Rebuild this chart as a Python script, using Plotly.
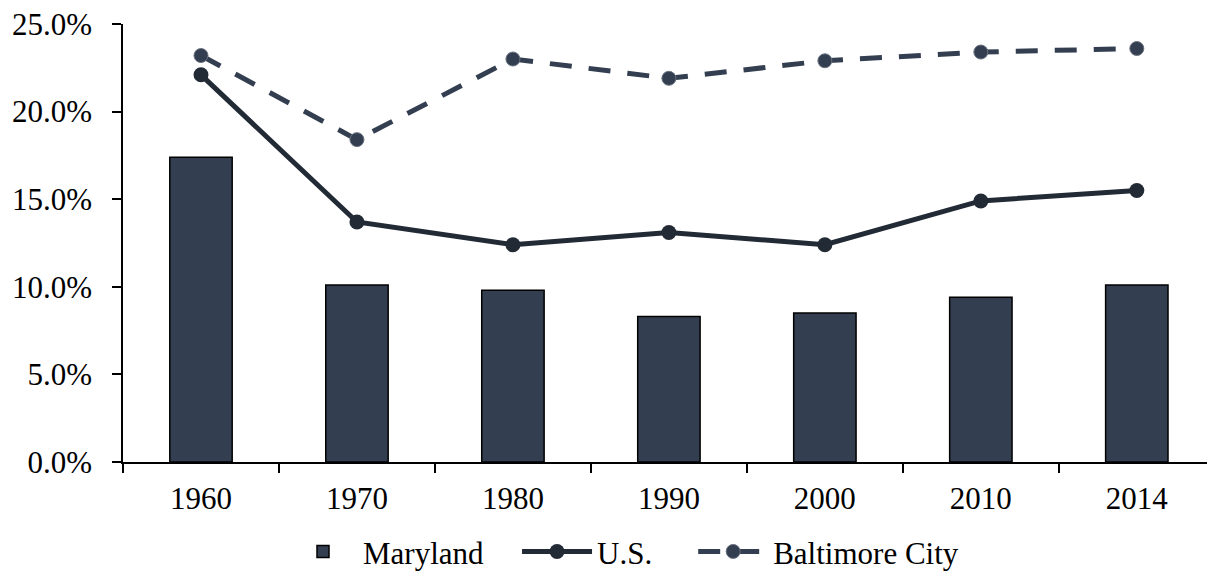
import plotly.graph_objects as go

years = ["1960", "1970", "1980", "1990", "2000", "2010", "2014"]
maryland = [17.4, 10.1, 9.8, 8.3, 8.5, 9.4, 10.1]
us = [22.1, 13.7, 12.4, 13.1, 12.4, 14.9, 15.5]
baltimore = [23.2, 18.4, 23.0, 21.9, 22.9, 23.4, 23.6]

y_ticks = [0, 5, 10, 15, 20, 25]

FONT = "Liberation Serif, Times New Roman, serif"
BAR = "#333f50"
DARK = "#222a35"
FS = 31

fig = go.Figure()
fig.add_trace(go.Bar(
    x=years, y=maryland, name="Maryland", width=0.4, legend="legend",
    marker=dict(color=BAR, line=dict(color="black", width=1.5)),
))
fig.add_trace(go.Scatter(
    x=years, y=us, name="U.S.", mode="lines+markers", legend="legend2",
    line=dict(color=DARK, width=5),
    marker=dict(symbol="circle", size=15, color=DARK),
))
fig.add_trace(go.Scatter(
    x=years, y=baltimore, name="Baltimore City", mode="lines+markers", legend="legend3",
    line=dict(color=BAR, width=5, dash="22px,17px"),
    marker=dict(symbol="circle", size=14, color=BAR, line=dict(color="#6b7280", width=1)),
))

leg_common = dict(orientation="h", xanchor="left", y=-0.205, yanchor="middle",
                  font=dict(family=FONT, size=FS, color="black"), itemwidth=70,
                  bgcolor="rgba(0,0,0,0)")

fig.update_layout(
    width=1210, height=573,
    margin=dict(l=123, r=3, t=24, b=111, autoexpand=False),
    paper_bgcolor="white", plot_bgcolor="white",
    font=dict(family=FONT, size=FS, color="black"),
    showlegend=True,
    legend=dict(x=0.1476, **leg_common),
    legend2=dict(x=0.3635, **leg_common),
    legend3=dict(x=0.526, **leg_common),
)
fig.update_xaxes(
    type="category", range=[-0.5, 6.45], automargin=False,
    showline=True, linecolor="black", linewidth=1.5,
    ticks="outside", tickson="boundaries", ticklen=9, tickwidth=1.5, tickcolor="black",
    showgrid=False, zeroline=False, ticklabelstandoff=8,
    tickfont=dict(family=FONT, size=FS, color="black"),
)
fig.update_yaxes(
    range=[0, 25], tickvals=y_ticks, ticktext=[f"{v:.1f}%" for v in y_ticks],
    automargin=False,
    showline=True, linecolor="black", linewidth=1.5,
    ticks="outside", ticklen=9, tickwidth=1.5, tickcolor="black",
    showgrid=False, zeroline=False, ticklabelstandoff=14,
    tickfont=dict(family=FONT, size=FS, color="black"),
)

fig.write_html(
    "out.html",
    config={"displayModeBar": False},
    post_script="document.body.style.margin='0';document.body.style.overflow='hidden';",
)
